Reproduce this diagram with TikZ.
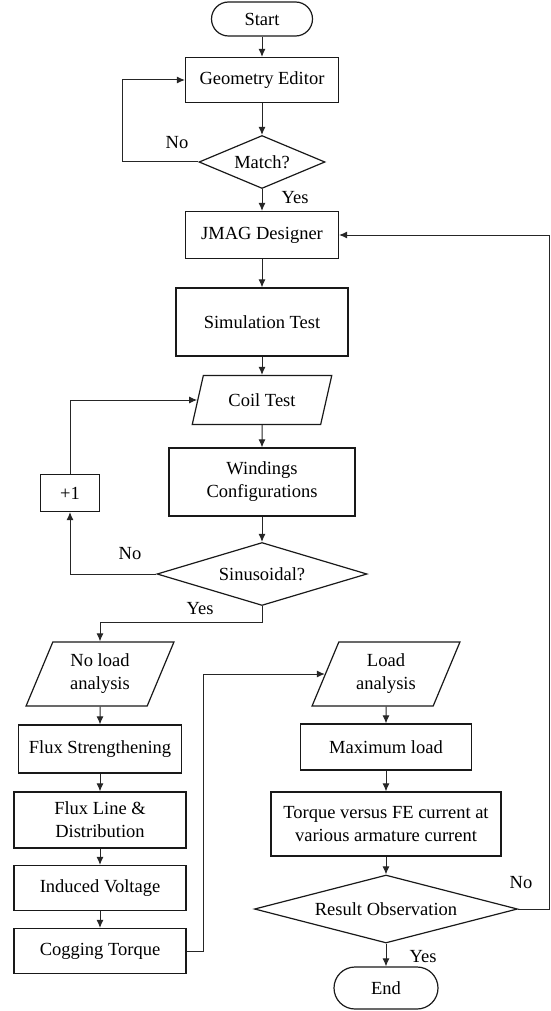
\documentclass[tikz,border=0pt]{standalone}
\usepackage{fontspec}
\setmainfont{Liberation Serif}
\usetikzlibrary{shapes.geometric,arrows.meta}

\begin{document}
\begin{tikzpicture}[x=1pt,y=-1pt,font=\fontsize{18.5}{23}\selectfont]
  \tikzstyle{cell} = [rectangle,draw=black!90,line width=1.2pt,inner
  sep=0pt,align=center]
  \tikzstyle{term} = [cell,rounded corners=17pt]
  \tikzstyle{test} = [diamond,draw=black!90,line width=1.2pt,inner
  sep=0pt,aspect=3]
  \tikzstyle{io} = [trapezium,trapezium stretches=true,trapezium left
  angle=64,trapezium right angle=116,draw=black!90,line width=1.2pt,inner
  sep=0pt,align=center]

  \tikzstyle{ref} =[-{Latex[length=8pt,width=7pt]}, line width=1pt, color=black!85]

  \useasboundingbox (0,0) rectangle (550,1011);

  % main column
  \node[term,minimum width=101pt,minimum height=34pt] (start) at (262,19) {Start};
  \node[cell,minimum width=153pt,minimum height=45pt] (geoedit) at (262,80) {Geometry Editor};
  \node[test,minimum width=126pt,minimum height=53pt] (match) at (262,162) {Match?};
  \node[cell,minimum width=153pt,minimum height=47pt] (jmag) at (262,235) {JMAG Designer};
  \node[cell,minimum width=172pt,minimum height=68pt] (simtest) at (262,322) {Simulation Test};
  \node[io,minimum width=140pt,minimum height=49pt] (coiltest) at (262,400) {Coil Test};
  \node[cell,minimum width=186pt,minimum height=68pt] (windcfg) at (262,482) {Windings\\Configurations};
  \node[test,minimum width=210pt,minimum height=63pt] (sinus) at (262,574) {Sinusoidal?};
  \node[cell,minimum width=59pt,minimum height=37pt] (plusone) at (70,493) {+1};

  % no load column
  \node[io,minimum width=148pt,minimum height=64pt,trapezium left angle=67,
  trapezium right angle=113] (noload) at (100,674) {No load\\analysis};
  \node[cell,minimum width=163pt,minimum height=48pt] (fluxstr) at (100,749) {Flux Strengthening};
  \node[cell,minimum width=172pt,minimum height=56pt] (fluxline) at (100,820) {Flux Line \&\\Distribution};
  \node[cell,minimum width=172pt,minimum height=45pt] (indvolt) at (100,888) {Induced Voltage};
  \node[cell,minimum width=172pt,minimum height=45pt] (cogtorq) at (100,951) {Cogging Torque};

  % load column
  \node[io,minimum width=148pt,minimum height=64pt,trapezium left angle=67,
  trapezium right angle=113] (loadan) at (386,674) {Load\\analysis};
  \node[cell,minimum width=171pt,minimum height=46pt] (maxload) at (386,747) {Maximum load};
  \node[cell,minimum width=230pt,minimum height=64pt] (torqfe) at (386,824) {Torque versus FE current at\\various armature current};
  \node[test,minimum width=263pt,minimum height=68pt] (result) at (386,909) {Result Observation};
  \node[term,minimum width=104pt,minimum height=42pt,rounded corners=21pt] (stop) at (386,988) {End};

  % labels
  \node (nomatch) at (177,143) {No};
  \node (yesmatch) at (295,198) {Yes};
  \node (nosinus) at (130,554) {No};
  \node (yessinus) at (200,609) {Yes};
  \node (noresult) at (521,883) {No};
  \node (yesresult) at (423,957) {Yes};

  % bends
  \coordinate (matchbend) at (122,162);
  \coordinate (sinbend) at (262,622);
  \coordinate (cogbend) at (203,951);
  \coordinate (resbend) at (549,909);

  \path (start) edge[ref] (geoedit);
  \path (geoedit) edge[ref] (match);
  \path (match) edge[ref] (jmag);
  \path (jmag) edge[ref] (simtest);
  \path (simtest) edge[ref] (coiltest);
  \path (coiltest) edge[ref] (windcfg);
  \path (windcfg) edge[ref] (sinus);

  \path (noload) edge[ref] (fluxstr);
  \path (fluxstr) edge[ref] (fluxline);
  \path (fluxline) edge[ref] (indvolt);
  \path (indvolt) edge[ref] (cogtorq);

  \path (loadan) edge[ref] (maxload);
  \path (maxload) edge[ref] (torqfe);
  \path (torqfe) edge[ref] (result);
  \path (result) edge[ref] (stop);

  \draw[ref] (match.west) -- (matchbend) |- (geoedit.west);
  \draw[ref] (sinus.west) -| (plusone.south);
  \draw[ref] (plusone.north) |- (coiltest.west);
  \draw[ref] (sinus.south) -- (sinbend) -| (noload.north);
  \draw[ref] (cogtorq.east) -- (cogbend) |- (loadan.west);
  \draw[ref] (result.east) -- (resbend) |- (jmag.east);

\end{tikzpicture}
\end{document}
